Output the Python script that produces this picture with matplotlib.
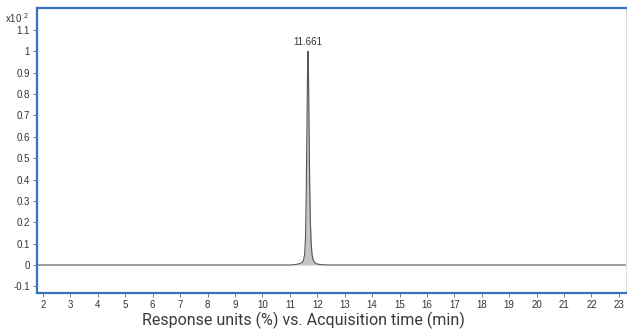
import matplotlib
matplotlib.use("Agg")
import matplotlib.pyplot as plt
import numpy as np

# Chromatogram data (response in units of 10^2 %)
time_min = [1.78, 11.00, 11.20, 11.35, 11.45, 11.50, 11.54, 11.57, 11.595, 11.62,
            11.645, 11.661, 11.68, 11.70, 11.725, 11.75, 11.78, 11.81, 11.85,
            11.90, 11.97, 12.10, 12.40, 23.26]
response = [0.0, 0.0, 0.002, 0.006, 0.012, 0.022, 0.05, 0.12, 0.30, 0.60,
            0.90, 1.00, 0.90, 0.65, 0.38, 0.20, 0.10, 0.05, 0.025,
            0.012, 0.006, 0.002, 0.0, 0.0]
peak_rt = 11.661
peak_label = "11.661"
x_ticks = list(range(2, 24))
y_ticks = [-0.1, 0, 0.1, 0.2, 0.3, 0.4, 0.5, 0.6, 0.7, 0.8, 0.9, 1, 1.1]

fig = plt.figure(figsize=(6.27, 3.33), dpi=100)
ax = fig.add_axes([37/627, 1-293/333, (626-37)/627, (293-8)/333])

ax.fill_between(time_min, response, 0, color="#c4c4c4", linewidth=0)
ax.plot(time_min, response, color="#555555", linewidth=0.8)

ax.set_xlim(1.78, 23.26)
ax.set_ylim(-0.131, 1.203)
ax.set_xticks(x_ticks)
ax.set_xticklabels([str(t) for t in x_ticks])
ax.set_yticks(y_ticks)
ax.set_yticklabels([f"{v:g}" for v in y_ticks])
ax.tick_params(axis="both", labelsize=7, length=3, width=0.6, color="#666666",
               labelcolor="#333333", pad=2)
for lbl in ax.get_xticklabels() + ax.get_yticklabels():
    lbl.set_family(["Liberation Sans", "DejaVu Sans"])

blue = "#3a6fc4"
for s in ("left", "top", "bottom"):
    ax.spines[s].set_color(blue)
    ax.spines[s].set_linewidth(1.6)
ax.spines["right"].set_color("#dddddd")
ax.spines["right"].set_linewidth(0.8)

ax.annotate(peak_label, xy=(peak_rt, 1.0), xytext=(0, 3), textcoords="offset points",
            ha="center", va="bottom", fontsize=7, color="#333333",
            family=["Liberation Sans", "DejaVu Sans"])

fig.text(5/627, 1-18/333, r"x10 $^{2}$", fontsize=7, color="#333333",
         ha="left", va="center", family=["Liberation Sans", "DejaVu Sans"])
fig.text(303/627, 1-320/333, "Response units (%) vs. Acquisition time (min)",
         fontsize=11.5, color="#3a3a3a", ha="center", va="center",
         family=["Roboto", "DejaVu Sans"])

fig.savefig("out.png", dpi=100)
